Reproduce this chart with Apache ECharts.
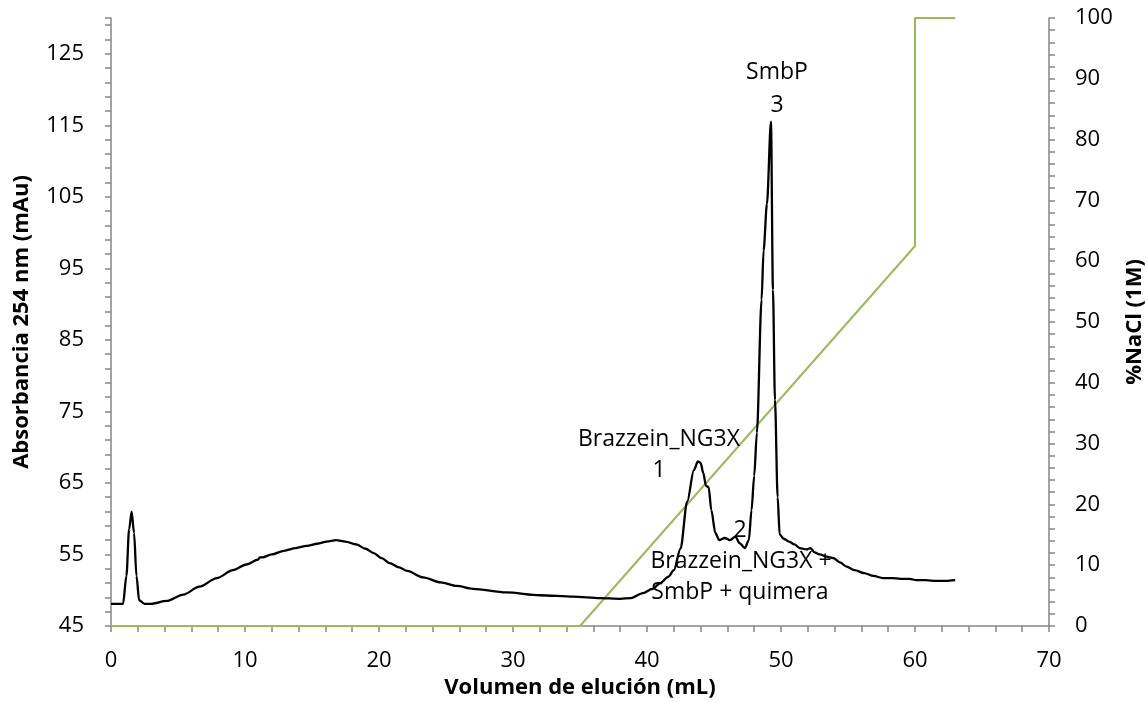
<!DOCTYPE html>
<html>
<head>
<meta charset="utf-8">
<script src="https://cdn.jsdelivr.net/npm/echarts@6/dist/echarts.min.js"></script>
<style>
html, body { margin: 0; padding: 0; background: #fff; }
#chart { width: 1147px; height: 702px; }
</style>
</head>
<body>
<div id="chart"></div>
<script>
// volumen de elución (mL) y absorbancia 254 nm (mAu)
var volumen = [0, 0.9, 1.15, 1.35, 1.54, 1.72, 1.9, 2.1, 2.5, 3.0, 4.15, 5.4, 6.6, 7.9, 9.1, 10.1, 11.0, 11.1, 11.3, 12.0,
	12.9, 13.8, 14.6, 15.4, 16.1, 16.8, 17.5, 18.3, 19.0, 19.6, 20.2, 20.8, 21.5, 22.1, 23.3, 24.6, 25.8, 27.0, 29.5, 32.0,
	34.5, 36.5, 38.0, 38.8, 39.7, 40.4, 41.0, 41.6, 42.0, 42.5, 43.0, 43.5, 43.8, 44.0, 44.2, 44.4, 44.6, 44.8, 45.1, 45.4,
	45.8, 46.2, 46.6, 46.9, 47.3, 47.6, 47.8, 48.0, 48.2, 48.55, 48.7, 48.95, 49.25, 49.4, 49.55, 49.75, 49.9, 50.2, 50.6, 51.0,
	51.4, 51.9, 52.2, 52.5, 52.9, 53.4, 53.9, 54.4, 54.9, 55.5, 56.2, 56.9, 57.6, 58.3, 58.9, 59.6, 60.1, 60.8, 61.6, 62.3, 63.0];
var absorbancia = [48.1, 48.1, 52.0, 58.5, 61.0, 58.0, 52.0, 48.6, 48.1, 48.1, 48.5, 49.4, 50.5, 51.7, 52.8, 53.6, 54.3, 54.6, 54.6, 55.0,
	55.5, 55.9, 56.2, 56.5, 56.8, 57.0, 56.8, 56.4, 55.8, 55.2, 54.5, 53.8, 53.2, 52.7, 51.8, 51.1, 50.6, 50.2, 49.7, 49.3,
	49.1, 48.9, 48.8, 48.9, 49.6, 50.2, 51.0, 51.9, 52.8, 55.8, 62.4, 66.8, 68.0, 67.8, 66.4, 64.6, 64.4, 61.2, 58.0, 57.0,
	57.3, 57.0, 57.5, 56.6, 55.9, 57.0, 61.2, 66.0, 72.0, 90.6, 97.5, 104.0, 115.5, 92.0, 76.6, 63.0, 57.8, 57.2, 56.8, 56.4,
	55.9, 55.7, 55.9, 55.3, 55.0, 54.7, 54.5, 53.9, 53.3, 52.8, 52.4, 52.0, 51.7, 51.7, 51.6, 51.6, 51.4, 51.4, 51.3, 51.3, 51.4];
// gradiente %NaCl (1M)
var gradVol = [0, 35, 60, 60, 63];
var gradNaCl = [0, 0, 62.5, 100, 100];
// etiquetas de picos: [texto, x px, y px]
var etiquetas = [
	['SmbP', 777, 72],
	['3', 777, 105],
	['Brazzein_NG3X', 659, 439],
	['1', 659, 470],
	['2', 740, 530],
	['Brazzein_NG3X +', 741, 561],
	['SmbP + quimera', 740, 592]
];

var axisGray = '#868686';
var fuente = 'Open Sans';

var myChart = echarts.init(document.getElementById('chart'));

var serieAbs = [];
for (var i = 0; i < volumen.length; i++) {
	serieAbs.push([volumen[i], absorbancia[i]]);
}
var serieGrad = [];
for (var j = 0; j < gradVol.length; j++) {
	serieGrad.push([gradVol[j], gradNaCl[j]]);
}

var textos = etiquetas.map(function(e) {
	return {
		type: 'text',
		x: e[1],
		y: e[2],
		style: {
			text: e[0],
			fill: '#000',
			font: '23px "' + fuente + '"',
			textAlign: 'center',
			textVerticalAlign: 'middle'
		},
		z: 10
	};
});
// titulo del eje x
textos.push({
	type: 'text',
	x: 580,
	y: 688,
	style: {
		text: 'Volumen de elución (mL)',
		fill: '#000',
		font: 'bold 22px "' + fuente + '"',
		textAlign: 'center',
		textVerticalAlign: 'middle'
	}
});

var ejeComun = {
	axisLine: { show: true, onZero: false, lineStyle: { color: axisGray, width: 1.5 } },
	axisTick: { show: true, inside: false, length: 6, lineStyle: { color: axisGray, width: 1.5 } },
	minorTick: { show: true, splitNumber: 5, length: 6, lineStyle: { color: axisGray, width: 1.5 } },
	splitLine: { show: false }
};

var nombreEstilo = { fontFamily: fuente, fontWeight: 'bold', fontSize: 22, color: '#000' };

var option = {
	animation: false,
	backgroundColor: '#fff',
	grid: { left: 111, right: 98, top: 18, bottom: 76, outerBoundsMode: 'none' },
	xAxis: Object.assign({}, ejeComun, {
		type: 'value',
		min: 0,
		max: 70,
		interval: 10,
		axisLabel: { margin: 24, fontFamily: fuente, fontSize: 22, color: '#000' }
	}),
	yAxis: [
		Object.assign({}, ejeComun, {
			type: 'value',
			min: 45,
			max: 130,
			interval: 10,
			name: 'Absorbancia 254 nm (mAu)',
			nameLocation: 'middle',
			nameGap: 78,
			nameRotate: 90,
			nameTextStyle: nombreEstilo,
			axisLabel: { margin: 27, fontFamily: fuente, fontSize: 22, color: '#000', showMaxLabel: false }
		}),
		Object.assign({}, ejeComun, {
			type: 'value',
			position: 'right',
			min: 0,
			max: 100,
			interval: 10,
			name: '%NaCl (1M)',
			nameLocation: 'middle',
			nameGap: 70,
			nameRotate: 90,
			nameTextStyle: nombreEstilo,
			axisLabel: { margin: 26, fontFamily: fuente, fontSize: 22, color: '#000' }
		})
	],
	series: [
		{
			type: 'line',
			yAxisIndex: 1,
			data: serieGrad,
			showSymbol: false,
			lineStyle: { color: '#9bbb59', width: 2 },
			z: 3
		},
		{
			type: 'line',
			yAxisIndex: 0,
			data: serieAbs,
			showSymbol: false,
			smooth: 0.3,
			smoothMonotone: 'x',
			lineStyle: { color: '#000', width: 2.3 },
			z: 4
		}
	],
	graphic: textos
};

myChart.setOption(option);
</script>
</body>
</html>
